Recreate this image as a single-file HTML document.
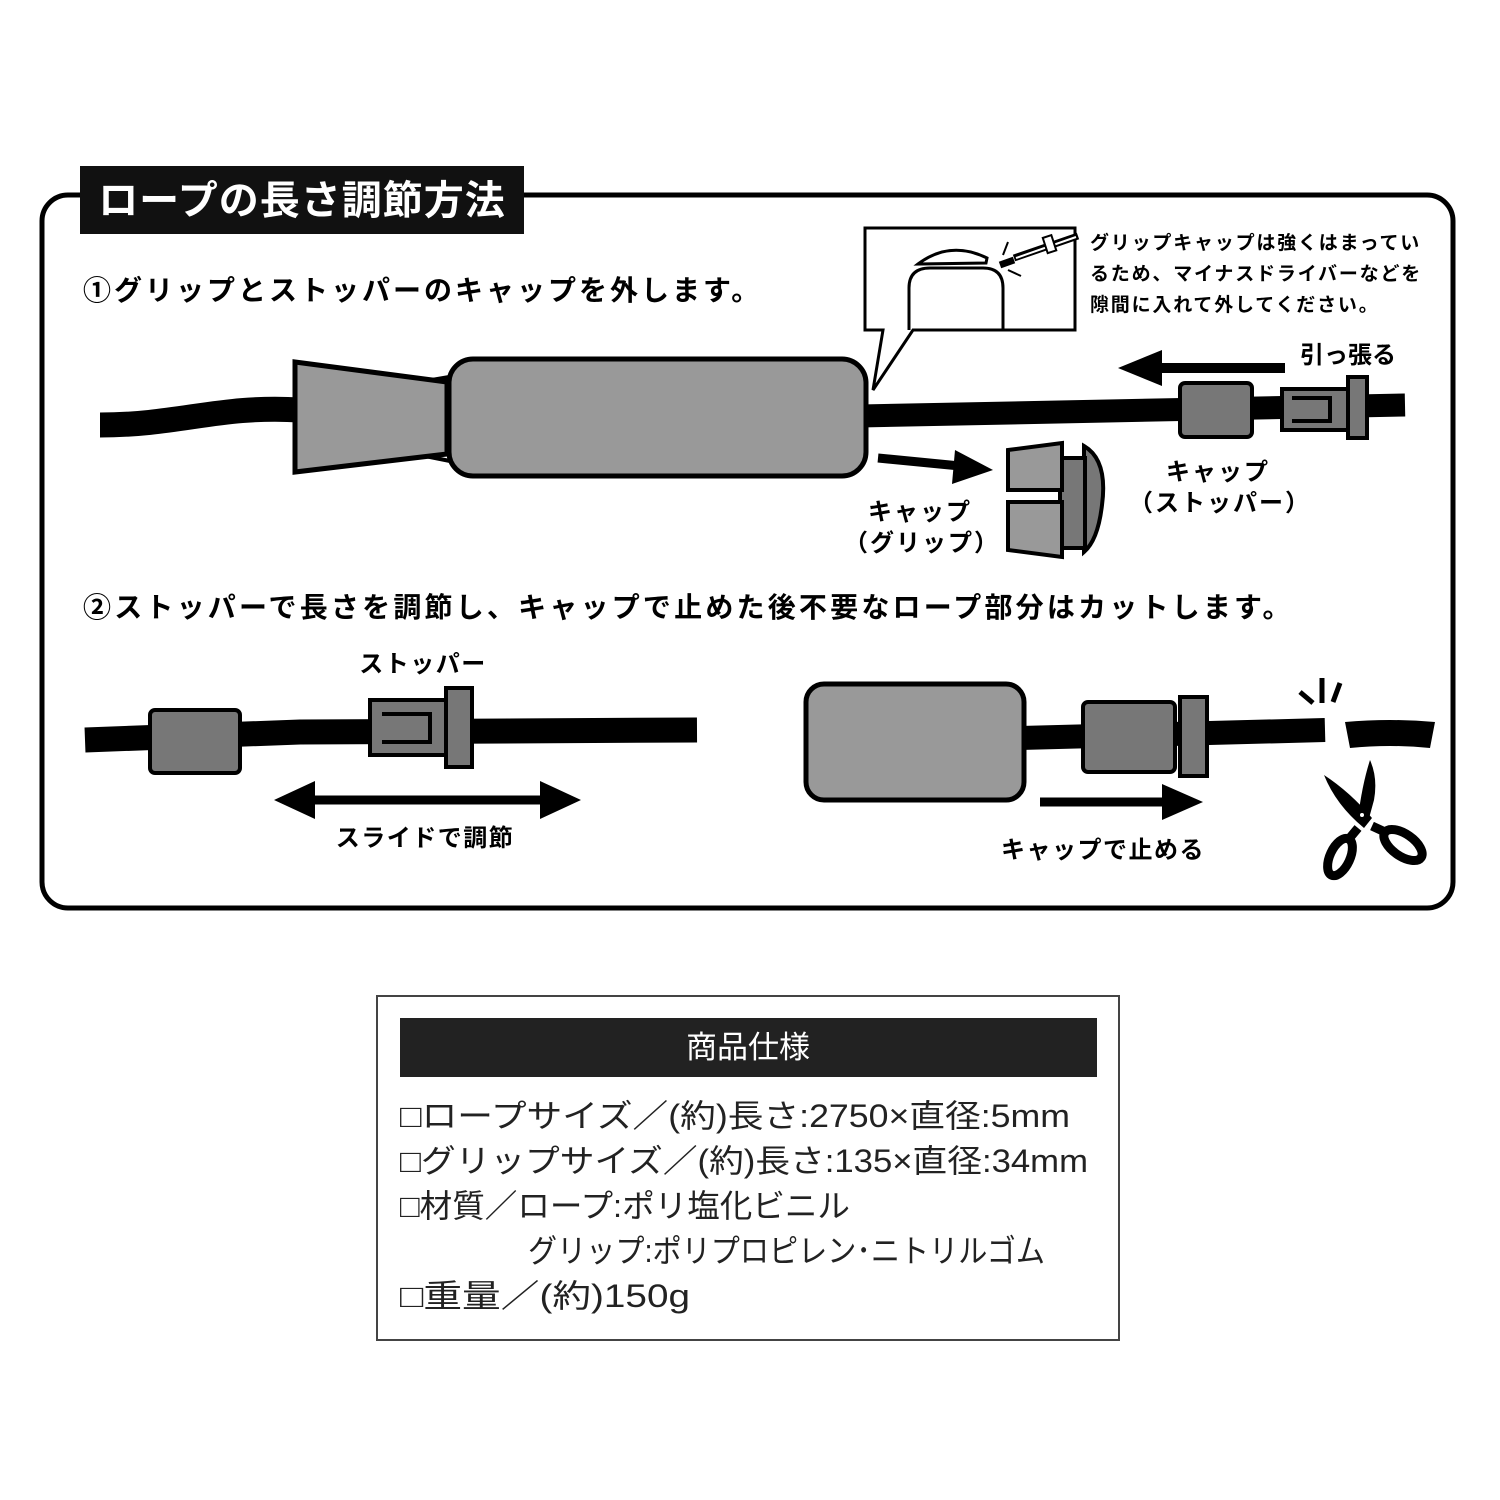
<!DOCTYPE html>
<html><head><meta charset="utf-8"><style>
html,body{margin:0;padding:0;background:#fff}
svg{display:block}
text{font-family:"Liberation Sans","Noto Sans CJK JP",sans-serif}
.b{font-weight:bold}
</style></head><body>
<svg width="1500" height="1500" viewBox="0 0 1500 1500" xmlns="http://www.w3.org/2000/svg">
<rect x="42" y="195" width="1411" height="713" rx="26" fill="none" stroke="#000" stroke-width="5"/>
<rect x="80" y="166" width="444" height="68" fill="#111"/>
<text x="302" y="214" font-size="40" fill="#fff" text-anchor="middle" class="b" letter-spacing="1">ロープの長さ調節方法</text>
<text x="83" y="300" font-size="28" class="b" letter-spacing="3">①グリップとストッパーのキャップを外します。</text>

<!-- callout -->
<path d="M865 228 H1075 V330 H913 L873 390 L883 330 H865 Z" fill="#fff" stroke="#000" stroke-width="3"/>
<path d="M909 330 V288 Q909 268 930 268 H983 Q1003 268 1003 288 V330" fill="none" stroke="#000" stroke-width="3"/>
<path d="M918 264 Q950 240 987 258 L986 263 Z" fill="#fff" stroke="#000" stroke-width="3"/>
<path d="M1000 265 L1014 260" stroke="#000" stroke-width="7"/>
<path d="M1014 258 L1078 236" stroke="#000" stroke-width="7"/>
<path d="M1016 258 L1076 237" stroke="#fff" stroke-width="2"/>
<rect x="1045" y="236" width="9" height="16" fill="#fff" stroke="#000" stroke-width="2" transform="rotate(-18 1050 244)"/>
<path d="M1003 255 L1008 242 M1008 270 L1021 276" stroke="#000" stroke-width="2"/>
<text font-size="19" class="b" letter-spacing="1.8"><tspan x="1090" y="249">グリップキャップは強くはまってい</tspan><tspan x="1090" y="280">るため、マイナスドライバーなどを</tspan><tspan x="1090" y="311">隙間に入れて外してください。</tspan></text>

<!-- rope 1 -->
<path d="M100 425 C180 425 220 405 300 410" stroke="#000" stroke-width="25" fill="none"/>
<path d="M860 416 L1405 405" stroke="#000" stroke-width="23" fill="none"/>
<path d="M420 382 L455 376 M420 455 L455 462" stroke="#000" stroke-width="4"/>
<polygon points="295,362 447,382 447,454 295,472" fill="#999" stroke="#000" stroke-width="5"/>
<rect x="449" y="359" width="417" height="117" rx="24" fill="#999" stroke="#000" stroke-width="5"/>

<!-- pull arrow -->
<path d="M1285 368 L1155 368" stroke="#000" stroke-width="10"/>
<polygon points="1118,368 1162,350 1162,386"/>
<text x="1300" y="363" font-size="24" class="b">引っ張る</text>
<rect x="1180" y="383" width="72" height="54" rx="5" fill="#777" stroke="#000" stroke-width="4"/>
<rect x="1282" y="389" width="66" height="41" fill="#777" stroke="#000" stroke-width="4"/>
<path d="M1292 398 H1330 V421 H1292" fill="none" stroke="#000" stroke-width="4"/>
<rect x="1348" y="377" width="19" height="61" fill="#777" stroke="#000" stroke-width="4"/>
<text x="1218" y="480" font-size="24" class="b" text-anchor="middle" letter-spacing="2">キャップ</text>
<text x="1220" y="511" font-size="24" class="b" text-anchor="middle" letter-spacing="2">（ストッパー）</text>

<!-- grip cap -->
<path d="M878 458 L960 466" stroke="#000" stroke-width="9"/>
<polygon points="993,470 955,450 952,484"/>
<path d="M1084 446 Q1108 460 1102 505 Q1098 540 1084 552 Z" fill="#777" stroke="#000" stroke-width="4"/>
<rect x="1060" y="458" width="25" height="90" fill="#777" stroke="#000" stroke-width="4"/>
<polygon points="1008,450 1062,443 1062,490 1008,490" fill="#999" stroke="#000" stroke-width="4"/>
<polygon points="1008,502 1062,502 1062,557 1008,550" fill="#999" stroke="#000" stroke-width="4"/>
<text x="920" y="520" font-size="24" class="b" text-anchor="middle" letter-spacing="2">キャップ</text>
<text x="922" y="551" font-size="24" class="b" text-anchor="middle" letter-spacing="2">（グリップ）</text>

<text x="83" y="617" font-size="28" class="b" letter-spacing="3.2">②ストッパーで長さを調節し、キャップで止めた後不要なロープ部分はカットします。</text>

<!-- bottom left -->
<path d="M85 740 L300 732 L697 730" stroke="#000" stroke-width="25" fill="none"/>
<rect x="150" y="710" width="90" height="63" rx="5" fill="#777" stroke="#000" stroke-width="4"/>
<rect x="370" y="700" width="76" height="55" fill="#777" stroke="#000" stroke-width="4"/>
<path d="M382 714 H430 V742 H382" fill="none" stroke="#000" stroke-width="4"/>
<rect x="446" y="688" width="26" height="79" fill="#777" stroke="#000" stroke-width="4"/>
<text x="423" y="672" font-size="24" class="b" text-anchor="middle" letter-spacing="1.5">ストッパー</text>
<path d="M300 800 L555 800" stroke="#000" stroke-width="9"/>
<polygon points="274,800 315,781 315,819"/>
<polygon points="581,800 540,781 540,819"/>
<text x="425" y="846" font-size="24" class="b" text-anchor="middle" letter-spacing="1.5">スライドで調節</text>

<!-- bottom right -->
<path d="M1020 738 L1325 730" stroke="#000" stroke-width="24" fill="none"/>
<path d="M1345 722 Q1390 718 1435 722 L1430 748 Q1390 744 1350 748 Z" fill="#000"/>
<rect x="806" y="684" width="218" height="116" rx="18" fill="#999" stroke="#000" stroke-width="5"/>
<rect x="1083" y="702" width="92" height="70" rx="5" fill="#777" stroke="#000" stroke-width="4"/>
<rect x="1180" y="697" width="27" height="79" fill="#777" stroke="#000" stroke-width="4"/>
<path d="M1040 802 L1170 802" stroke="#000" stroke-width="9"/>
<polygon points="1203,802 1162,784 1162,820"/>
<text x="1103" y="858" font-size="24" class="b" text-anchor="middle" letter-spacing="1.5">キャップで止める</text>
<path d="M1300 692 L1313 703 M1322 678 L1322 703 M1340 683 L1333 702" stroke="#000" stroke-width="5"/>
<!-- scissors -->
<path d="M1324 775 Q1350 792 1372 818 L1364 828 Q1336 805 1324 775 Z" fill="#000"/>
<path d="M1370 760 Q1378 778 1374 800 L1368 822 L1358 818 Q1362 785 1370 760 Z" fill="#000"/>
<path d="M1358 828 L1348 840" stroke="#000" stroke-width="9"/>
<ellipse cx="1340" cy="857" rx="10" ry="20" transform="rotate(25 1340 857)" fill="none" stroke="#000" stroke-width="9"/>
<path d="M1372 826 L1385 832" stroke="#000" stroke-width="9"/>
<ellipse cx="1403" cy="845" rx="22" ry="11" transform="rotate(35 1403 845)" fill="none" stroke="#000" stroke-width="9"/>
<circle cx="1362" cy="815" r="2" fill="#fff"/>

<!-- spec -->
<rect x="377" y="996" width="742" height="344" fill="none" stroke="#444" stroke-width="2"/>
<rect x="400" y="1018" width="697" height="59" fill="#222"/>
<text x="748" y="1058" font-size="31" fill="#fff" text-anchor="middle">商品仕様</text>
<g font-size="32" fill="#222">
<text x="400" y="1127" textLength="670" lengthAdjust="spacingAndGlyphs">□ロープサイズ／(約)長さ:2750×直径:5mm</text>
<text x="400" y="1172" textLength="688" lengthAdjust="spacingAndGlyphs">□グリップサイズ／(約)長さ:135×直径:34mm</text>
<text x="400" y="1217" textLength="450" lengthAdjust="spacingAndGlyphs">□材質／ロープ:ポリ塩化ビニル</text>
<text x="528" y="1262" textLength="517" lengthAdjust="spacingAndGlyphs">グリップ:ポリプロピレン･ニトリルゴム</text>
<text x="400" y="1307" textLength="290" lengthAdjust="spacingAndGlyphs">□重量／(約)150g</text>
</g>
</svg>
</body></html>
